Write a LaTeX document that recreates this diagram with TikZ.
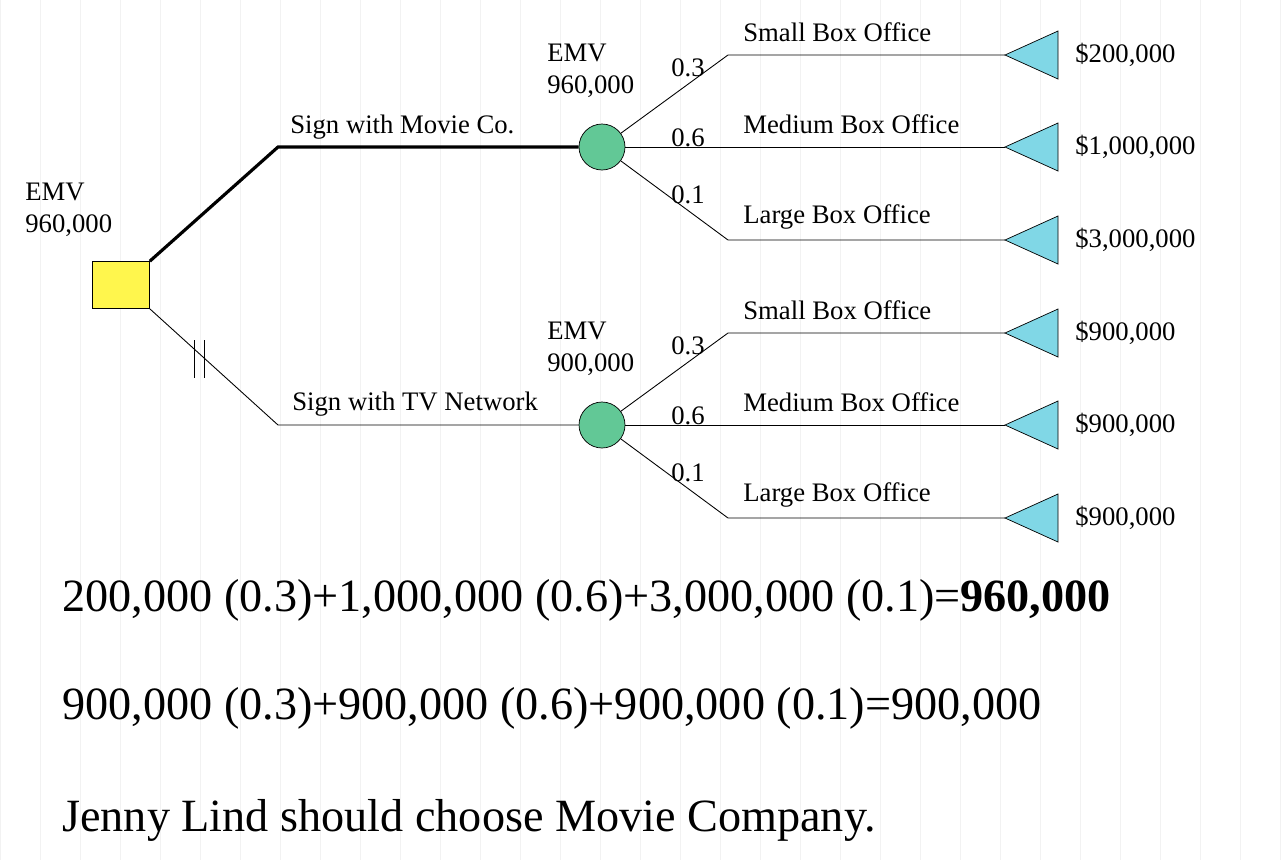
\documentclass[tikz,border=0pt]{standalone}
\usepackage{fontspec}
\setmainfont{Liberation Serif}
\definecolor{chc}{RGB}{98,200,150}
\definecolor{trc}{RGB}{128,215,230}
\begin{document}
\begin{tikzpicture}[x=0.02cm,y=-0.02cm,
  lbl/.style={font=\fontsize{15.2}{18}\selectfont,inner sep=0pt},
  big/.style={font=\fontsize{26.3}{30}\selectfont,inner sep=0pt,anchor=west},
  chance/.style={circle,draw,fill=chc,minimum size=0.92cm,inner sep=0pt},
  term/.style={draw,fill=trc},
  br/.style={draw,line width=0.5pt}]
\useasboundingbox (0,0) rectangle (1281,860);
\draw[black!5] (0,0) grid[step=40] (1281,860);
\node[draw,fill=yellow!70,minimum width=1.14cm,minimum height=0.94cm,inner sep=0pt] (d) at (121,285) {};
\node[lbl,anchor=west,align=left] at (25,210) {EMV\\960,000};
\foreach \dy/\nm/\emv/\va/\vb/\vc [count=\i] in {0/c1/{960,000}/{\$200,000}/{\$1,000,000}/{\$3,000,000}, 278/c2/{900,000}/{\$900,000}/{\$900,000}/{\$900,000}}{
  \node[chance] (\nm) at (602,147+\dy) {};
  \node[lbl,anchor=west,align=left] at (547,71+\dy) {EMV\\\emv};
  \coordinate (k\i) at (278,147+\dy);
  \foreach \y/\lb/\v/\p/\py [count=\j] in {55/Small/\va/0.3/68, 147/Medium/\vb/0.6/138, 240/Large/\vc/0.1/195}{
    \coordinate (t\i\j) at (1005,\y+\dy);
    \coordinate (m\i\j) at (728,\y+\dy);
    \node[lbl,anchor=west] at (743,\y-23+\dy) {\lb\ Box Office};
    \node[lbl] at (688,\py+\dy) {\p};
    \node[lbl,anchor=west] at (1075,\y+\dy) {\v};
    \draw[term] (t\i\j) -- ++(53,-24) -- ++(0,48) -- cycle;
  }
  \draw[br] (\nm) -- (m\i1) -- (t\i1);
  \draw[br] (\nm) -- (t\i2);
  \draw[br] (\nm) -- (m\i3) -- (t\i3);
}
\draw[line width=1.8pt] (d.north east) -- (k1) -- (c1);
\draw[br] (d.south east) -- (k2) -- (c2);
\node[lbl,anchor=west] at (290,127) {Sign with Movie Co.};
\node[lbl,anchor=west] at (292,404) {Sign with TV Network};
\draw (194,340) -- (194,378) (204,340) -- (204,378);
\node[big] at (62,600) {200,000 (0.3)+1,000,000 (0.6)+3,000,000 (0.1)=\textbf{960,000}};
\node[big] at (62,708) {900,000 (0.3)+900,000 (0.6)+900,000 (0.1)=900,000};
\node[big] at (62,820) {Jenny Lind should choose Movie Company.};
\end{tikzpicture}
\end{document}
